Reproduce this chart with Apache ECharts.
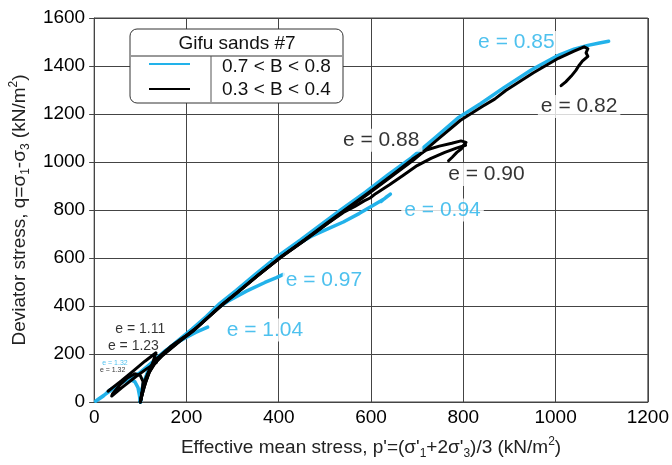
<!DOCTYPE html>
<html>
<head>
<meta charset="utf-8">
<script src="https://cdn.jsdelivr.net/npm/echarts@6/dist/echarts.min.js"></script>
<style>
  html, body { margin: 0; padding: 0; background: #fff; }
  #main { width: 672px; height: 465px; }
</style>
</head>
<body>
<div id="main"></div>
<script>
// stress paths, [p', q] in kN/m2
const blueE085 = [[100,0],[102,40],[107,80],[115,120],[127,160],[142,192],[156,214],[183,258],[212,304],[243,356],[272,410],[308,465],[348,530],[398,608],[448,676],[498,748],[538,806],[588,874],[638,948],[688,1018],[738,1100],[790,1186],[838,1244],[888,1310],[948,1384],[1003,1442],[1040,1470],[1070,1486],[1095,1496],[1115,1503]];
const blueE094 = [[100,0],[102,40],[108,80],[116,120],[128,160],[143,191],[157,213],[184,257],[214,302],[244,354],[273,407],[309,462],[349,527],[399,604],[430,645],[470,690],[505,720],[540,750],[575,786],[605,820],[630,848],[642,866],[632,852],[622,836]];
const blueE097 = [[100,0],[103,40],[108,80],[116,120],[128,160],[143,191],[157,213],[184,257],[214,302],[244,352],[265,388],[290,420],[330,462],[370,498],[395,518],[410,532]];
const blueE104 = [[100,0],[103,40],[108,80],[116,120],[128,160],[143,191],[157,212],[172,238],[195,265],[220,290],[246,312]];
const blueE132 = [[100,0],[98,30],[95,60],[88,85],[75,95],[60,80],[45,60],[30,40],[15,20],[3,3],[20,25],[34,50],[52,72],[70,94],[98,120],[125,164],[155,215],[185,255]];

const blackE082 = [[100,0],[104,40],[110,80],[118,120],[130,160],[146,190],[160,212],[186,254],[216,298],[246,350],[276,402],[312,458],[352,522],[402,600],[452,668],[502,738],[542,796],[592,864],[642,936],[692,1008],[742,1090],[794,1174],[842,1232],[868,1262],[892,1298],[952,1372],[1006,1432],[1040,1462],[1062,1480],[1070,1472],[1066,1455],[1070,1440],[1058,1420],[1050,1400],[1044,1382],[1034,1358],[1022,1334],[1012,1318]];
const blackE088 = [[100,0],[106,45],[112,85],[120,125],[133,165],[148,195],[162,218],[190,262],[220,306],[250,358],[280,410],[316,466],[356,530],[406,606],[456,676],[506,748],[546,804],[596,874],[646,946],[690,1012],[720,1050],[748,1066],[775,1078],[795,1088],[806,1082],[800,1068],[796,1055],[786,1040],[776,1020],[768,1005]];
const blackE090 = [[100,0],[105,45],[111,85],[119,125],[131,163],[146,193],[160,215],[187,258],[217,302],[247,354],[277,406],[313,461],[353,525],[403,601],[453,670],[503,740],[540,790],[565,815],[585,838],[598,850],[610,868],[640,905],[670,945],[700,985],[730,1015],[760,1040],[785,1058],[805,1070]];
const blackE111 = [[100,0],[105,50],[112,100],[122,145],[135,180],[150,205],[165,230],[190,265],[210,290]];
const blackE123 = [[100,0],[108,60],[118,120],[128,170],[134,205],[110,170],[85,130],[60,90],[40,60],[30,45]];
const blackE132 = [[100,0],[104,45],[106,85],[100,110],[88,118],[72,100],[55,70],[40,35],[38,25],[60,60],[90,105],[115,140],[135,165]];

// void ratio labels
const labelText = ['e = 0.85', 'e = 0.82', 'e = 0.88', 'e = 0.90', 'e = 0.94', 'e = 0.97', 'e = 1.04', 'e = 1.11', 'e = 1.23', 'e = 1.32', 'e = 1.32'];
const labelAt = [[915,1498],[1051,1231],[622,1091],[850,948],[755,800],[498,509],[370,300],[100,304],[85,234],[45,164],[40,131]];
const labelBlue = [true, false, false, false, true, true, true, false, false, true, false];

const xTicks = [0, 200, 400, 600, 800, 1000, 1200];
const yTicks = [0, 200, 400, 600, 800, 1000, 1200, 1400, 1600];

const BLUE = '#22b2ea';
const FONT = 'Liberation Sans';

const blueSeries = [blueE085, blueE094, blueE097, blueE104, blueE132];
const blackSeries = [blackE082, blackE088, blackE090, blackE111, blackE123, blackE132];

const lineSeries = (data, color, w) => ({
  type: 'line',
  data: data,
  showSymbol: false,
  silent: true,
  lineStyle: { color: color, width: w, join: 'round', cap: 'round' },
  z: 3
});

const labelData = labelText.map((t, i) => {
  const size = i < 7 ? 21 : (i < 9 ? 14 : 7);
  return {
    value: labelAt[i],
    label: {
      show: true,
      position: [0, 0],
      align: 'center',
      verticalAlign: 'middle',
      formatter: t,
      color: labelBlue[i] ? BLUE : '#000',
      fontSize: size,
      fontFamily: FONT,
      backgroundColor: i < 7 ? '#fff' : 'transparent',
      padding: i < 7 ? [1, 3] : 0
    }
  };
});

const richName = {
  t: { fontSize: 19, fontFamily: FONT, color: '#222', lineHeight: 24 },
  s: { fontSize: 12, fontFamily: FONT, color: '#222', lineHeight: 14, verticalAlign: 'bottom' },
  p: { fontSize: 12, fontFamily: FONT, color: '#222', lineHeight: 14, verticalAlign: 'top' }
};

const chart = echarts.init(document.getElementById('main'));
chart.setOption({
  animation: false,
  backgroundColor: '#fff',
  grid: { left: 93, right: 15, top: 18, bottom: 58, show: true, borderColor: '#444', borderWidth: 1 },
  xAxis: {
    type: 'value', min: 0, max: 1200, interval: 200,
    name: "{t|Effective mean stress, p'=(σ'}{s|1}{t|+2σ'}{s|3}{t|)/3 (kN/m}{p|2}{t|)}",
    nameLocation: 'middle', nameGap: 34,
    nameTextStyle: { rich: richName },
    axisLine: { show: true, lineStyle: { color: '#444' } },
    axisTick: { show: false },
    axisLabel: { fontSize: 19, fontFamily: FONT, color: '#000', margin: 6,
      formatter: v => xTicks.includes(v) ? String(v) : '' },
    splitLine: { show: true, lineStyle: { color: '#444', width: 1 } }
  },
  yAxis: {
    type: 'value', min: 0, max: 1600, interval: 200,
    name: '{t|Deviator stress, q=σ}{s|1}{t|-σ}{s|3}{t| (kN/m}{p|2}{t|)}',
    nameLocation: 'middle', nameGap: 61, nameRotate: 90,
    nameTextStyle: { rich: richName },
    axisLine: { show: true, lineStyle: { color: '#444' } },
    axisTick: { show: true, inside: false, length: 5, lineStyle: { color: '#444' } },
    axisLabel: { fontSize: 19, fontFamily: FONT, color: '#000', margin: 9,
      formatter: v => yTicks.includes(v) ? String(v) : '' },
    splitLine: { show: true, lineStyle: { color: '#444', width: 1 } }
  },
  series: [
    ...blueSeries.map(d => lineSeries(d, BLUE, 3.5)),
    ...blackSeries.map(d => lineSeries(d, '#000', 3)),
    {
      type: 'scatter',
      symbolSize: 0,
      silent: true,
      data: labelData,
      z: 10
    }
  ],
  graphic: [
    { type: 'rect', shape: { x: 130, y: 29, width: 213, height: 74, r: 7 },
      style: { fill: '#fff', stroke: '#333', lineWidth: 1 }, z: 20 },
    { type: 'line', shape: { x1: 131, y1: 56, x2: 342, y2: 56 }, style: { stroke: '#333', lineWidth: 1 }, z: 21 },
    { type: 'line', shape: { x1: 211, y1: 56, x2: 211, y2: 102 }, style: { stroke: '#555', lineWidth: 1 }, z: 21 },
    { type: 'text', x: 237, y: 44, style: { text: 'Gifu sands #7', font: '19px "Liberation Sans"', fill: '#111', align: 'center', verticalAlign: 'middle' }, z: 21 },
    { type: 'line', shape: { x1: 149, y1: 64, x2: 190, y2: 64 }, style: { stroke: BLUE, lineWidth: 2 }, z: 21 },
    { type: 'line', shape: { x1: 149, y1: 89, x2: 190, y2: 89 }, style: { stroke: '#000', lineWidth: 2 }, z: 21 },
    { type: 'text', x: 222, y: 67, style: { text: '0.7 < B < 0.8', font: '19px "Liberation Sans"', fill: '#111', align: 'left', verticalAlign: 'middle' }, z: 21 },
    { type: 'text', x: 222, y: 90, style: { text: '0.3 < B < 0.4', font: '19px "Liberation Sans"', fill: '#111', align: 'left', verticalAlign: 'middle' }, z: 21 }
  ]
});
</script>
</body>
</html>
